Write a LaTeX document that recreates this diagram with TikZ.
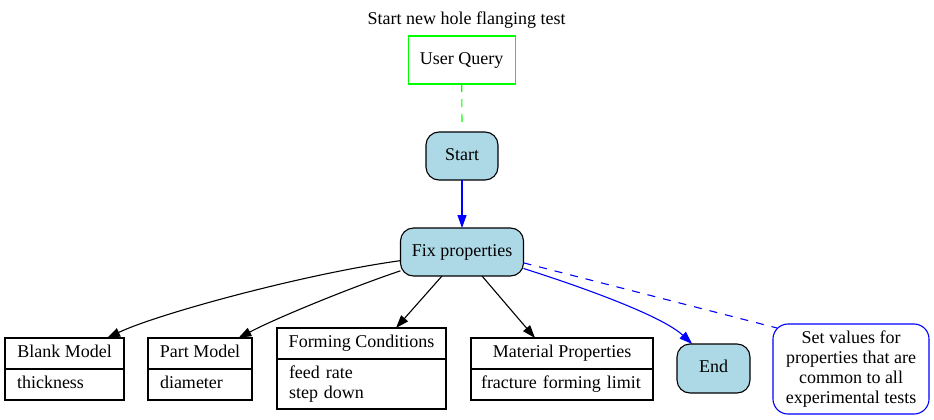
\documentclass[tikz,border=0pt]{standalone}
\usepackage{fontspec}
\setmainfont{Liberation Serif}
\usetikzlibrary{arrows.meta,calc}
\definecolor{lblue}{HTML}{ADD8E6}
\definecolor{gvgreen}{HTML}{00FF00}
\definecolor{gvblue}{HTML}{0000FF}
\begin{document}
\begin{tikzpicture}[x=1pt,y=-1pt,
  font=\fontsize{18}{20}\selectfont,
  every node/.style={inner sep=0pt, outer sep=0pt},
  oneline/.style={text height=12.5pt, text depth=4pt},
  filled/.style={draw=black, fill=lblue, line width=1.1pt, rounded corners=13pt, oneline},
  headbox/.style={draw=black, line width=1.1pt, oneline},
  fieldbox/.style={draw=black, line width=1.1pt, align=left, anchor=north},
  tip/.style={-{Triangle[length=13pt,width=9pt]}},
  edge/.style={line width=1.1pt, tip},
  bedge/.style={line width=1.1pt, gvblue, tip},
  dashblue/.style={line width=1.1pt, gvblue, dash pattern=on 8pt off 8pt},
  dashgreen/.style={line width=1.1pt, gvgreen, dash pattern=on 8pt off 7pt}]
\useasboundingbox (0,0) rectangle (934,420);

% title and top nodes
\node[anchor=base] (title) at (466.5,25) {Start new hole flanging test};
\node[draw=gvgreen, line width=1.1pt, oneline, minimum width=107pt, minimum height=48pt] (uq) at (461.7,60) {User Query};
\node[filled, minimum width=72pt, minimum height=48pt] (st) at (462,156) {Start};
\node[filled, minimum width=123pt, minimum height=48pt] (fp) at (462,252) {Fix properties};

% record nodes
\node[headbox, minimum width=119pt, minimum height=31pt] (bm) at (64.5,353.5) {Blank Model};
\node[fieldbox, oneline, text width=95pt, inner xsep=12pt, minimum height=31pt] (bmf) at (bm.south) {thickness};

\node[headbox, minimum width=104pt, minimum height=31pt] (pm) at (200,353.5) {Part Model};
\node[fieldbox, oneline, text width=80pt, inner xsep=12pt, minimum height=31pt] (pmf) at (pm.south) {diameter};

\node[headbox, minimum width=169pt, minimum height=31pt] (fc) at (361.5,343.5) {Forming Conditions};
\node[fieldbox, text width=145pt, inner xsep=12pt, minimum height=50pt] (fcf) at (fc.south) {feed rate\\step down};

\node[headbox, minimum width=182pt, minimum height=31pt] (mp) at (562,353.5) {Material Properties};
\node[fieldbox, oneline, text width=164pt, inner xsep=9pt, minimum height=31pt] (mpf) at (mp.south) {\hspace*{1pt}fracture forming limit};

\node[filled, minimum width=73pt, minimum height=49pt] (ed) at (713.5,368.5) {End};
\node[draw=gvblue, line width=1.1pt, rounded corners=15pt, align=center, minimum width=156pt, minimum height=90pt] (note) at (851,369) {Set values for\\properties that are\\common to all\\experimental tests};

% connectors
\draw[dashgreen] (uq.south) -- ($(st.north)+(0,-8)$);
\draw[bedge] (st.south) -- (fp.north);
\draw[edge] (fp.188) .. controls +(-95,13) and +(50,-24) .. (bm.20);
\draw[edge] (fp.197) .. controls +(-45,15) and +(40,-21) .. (pm.22);
\draw[edge] ($(fp.south)+(-20,0)$) -- ($(fc.north)+(34.5,0)$);
\draw[edge] ($(fp.south)+(20,0)$) -- ($(mp.north)+(-27,0)$);
\draw[bedge] (fp.345) .. controls +(60,19) and +(-30,-28) .. (ed.131);
\draw[dashblue] (fp.350) -- ($(note.north west)+(4,4)$);
\end{tikzpicture}
\end{document}
